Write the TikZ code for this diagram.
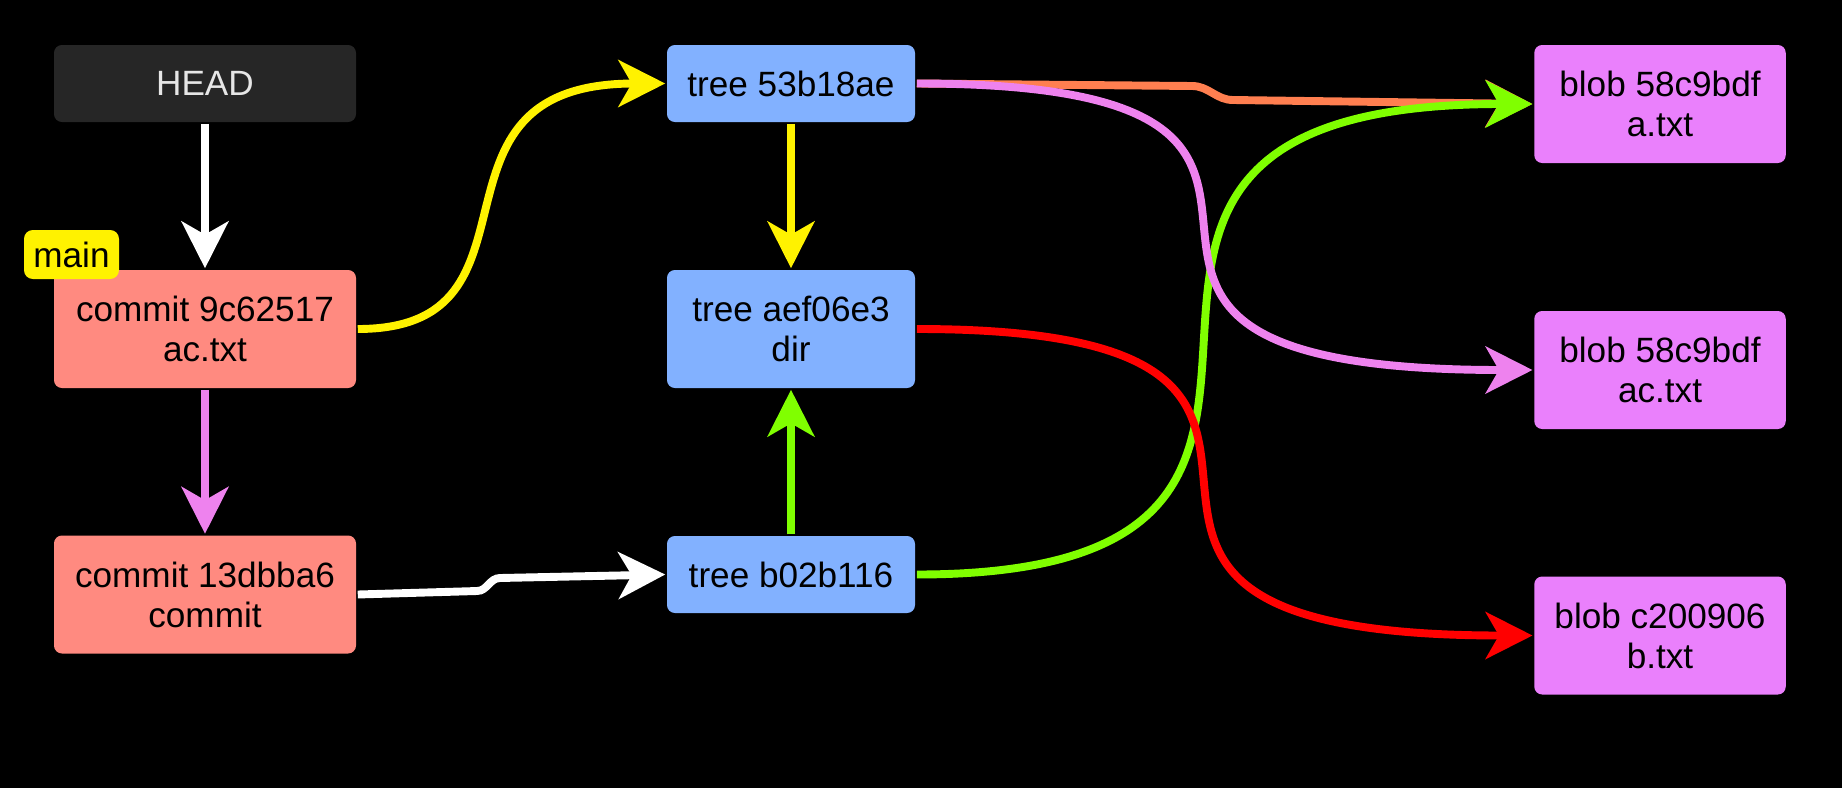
\documentclass[tikz,border=0pt]{standalone}
\usepackage{fontspec}
\setmainfont{Liberation Sans}
\usepackage{tikz}
\usetikzlibrary{positioning,arrows.meta}
\usepackage{xcolor}
\definecolor{headgray}{HTML}{262626}
\definecolor{headtext}{HTML}{E6E6E6}
\definecolor{commitred}{HTML}{FF8A80}
\definecolor{treeblue}{HTML}{82B1FF}
\definecolor{blobpurple}{HTML}{EA80FC}
\definecolor{linkviolet}{HTML}{EE82EE}
\definecolor{linkgreen}{HTML}{80FF00}
\definecolor{linkorange}{HTML}{FF7F50}

\begin{document}
\begin{tikzpicture}[
  font=\fontsize{20}{22.7}\selectfont,
  obj/.style={rectangle, rounded corners=4.5pt, inner sep=0pt, outer sep=1pt, align=center, text=black},
  commitbox/.style={obj, fill=commitred, minimum width=6.04cm, minimum height=2.36cm},
  treebox/.style={obj, fill=treeblue, minimum width=4.96cm, minimum height=1.54cm},
  blobbox/.style={obj, fill=blobpurple, minimum width=5.03cm, minimum height=2.36cm},
  link/.style={line width=4.5pt, -{Stealth[length=26.6pt, width=26.6pt, inset=7.5pt]}},
]
\useasboundingbox (0,0) rectangle (36.84,-15.76);
\fill[black] (0,0) rectangle (36.84,-15.76);

% HEAD とコミット
\node[obj, fill=headgray, text=headtext, minimum width=6.04cm, minimum height=1.54cm] (head) at (4.10,-1.67) {HEAD};
\node[commitbox] (c1) at (4.10,-6.58) {commit 9c62517\\ac.txt};
\node[commitbox] (c2) at (4.10,-11.89) {commit 13dbba6\\commit};
\node[fill=yellow, rounded corners=5pt, inner sep=0pt, minimum width=1.9cm, minimum height=0.98cm] (main) at (1.43,-5.09) {main};

% ツリー
\node[treebox] (t1) at (15.82,-1.67) {tree 53b18ae};
\node[treebox, minimum height=2.36cm] (t2) at (15.82,-6.58) {tree aef06e3\\dir};
\node[treebox] (t3) at (15.82,-11.49) {tree b02b116};

% ブロブ
\node[blobbox] (b1) at (33.2,-2.08) {blob 58c9bdf\\a.txt};
\node[blobbox] (b2) at (33.2,-7.40) {blob 58c9bdf\\ac.txt};
\node[blobbox] (b3) at (33.2,-12.71) {blob c200906\\b.txt};

% 矢印
\draw[link, white] (head) -- (c1);
\draw[link, linkviolet] (c1) -- (c2);
\draw[link, yellow] (t1) -- (t2);
\draw[link, linkgreen] (t3) -- (t2);
\draw[link, yellow] (c1.east) .. controls +(4.04,0) and +(-5.18,0) .. (t1.west);
\draw[link, white] (c2.east) -- (9.54,-11.82) to[out=0,in=180] (10.0,-11.56) -- (t3.west);
\draw[link, linkorange] (t1.east) -- (23.84,-1.72) to[out=0,in=180] (24.66,-2.0) -- (b1.west);
\draw[link, linkgreen] (t3.east) .. controls +(11.0,0) and +(-11.9,0) .. (b1.west);
\draw[link, linkviolet] (t1.east) .. controls +(11.0,0) and +(-11.9,0) .. (b2.west);
\draw[link, red] (t2.east) .. controls +(11.0,0) and +(-11.9,0) .. (b3.west);
\end{tikzpicture}
\end{document}
